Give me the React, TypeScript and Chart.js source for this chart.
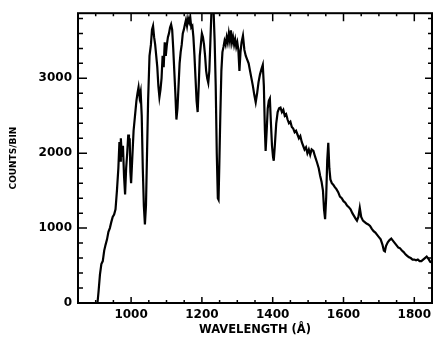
import React, { useEffect, useRef } from "react";
import { Chart, registerables } from "chart.js";
Chart.register(...registerables);

const wavelength = [
  850, 905, 908, 912, 916, 920, 924, 928, 932, 936, 940, 944, 948, 952, 956, 960, 964, 967, 969, 971,
  974, 977, 980, 983, 986, 989, 992, 994, 996, 998, 1000, 1003, 1007, 1011, 1015, 1018, 1021, 1024, 1027, 1030,
  1033, 1036, 1039, 1042, 1045, 1048, 1052, 1056, 1059, 1062, 1065, 1068, 1071, 1074, 1077, 1080, 1083, 1086, 1089, 1092,
  1095, 1098, 1101, 1104, 1107, 1110, 1113, 1116, 1119, 1122, 1125, 1128, 1131, 1134, 1137, 1140, 1143, 1146, 1149, 1152,
  1155, 1158, 1161, 1164, 1167, 1170, 1173, 1176, 1179, 1182, 1185, 1188, 1191, 1194, 1197, 1200, 1203, 1206, 1209, 1212,
  1215, 1218, 1221, 1224, 1227, 1230, 1233, 1236, 1239, 1242, 1245, 1247, 1249, 1252, 1255, 1258, 1261, 1264, 1267, 1270,
  1273, 1276, 1279, 1282, 1285, 1288, 1291, 1294, 1297, 1300, 1303, 1306, 1309, 1312, 1316, 1320, 1324, 1328, 1332, 1336,
  1340, 1344, 1348, 1352, 1356, 1360, 1364, 1368, 1372, 1375, 1378, 1380, 1383, 1386, 1389, 1392, 1395, 1398, 1401, 1403,
  1406, 1410, 1414, 1418, 1422, 1426, 1430, 1434, 1438, 1442, 1446, 1450, 1454, 1458, 1462, 1466, 1470, 1474, 1478, 1482,
  1486, 1490, 1494, 1498, 1502, 1506, 1510, 1515, 1520, 1525, 1530, 1534, 1538, 1542, 1545, 1548, 1551, 1554, 1557, 1560,
  1563, 1567, 1571, 1575, 1580, 1585, 1590, 1595, 1600, 1605, 1610, 1615, 1620, 1625, 1630, 1635, 1638, 1642, 1646, 1650,
  1655, 1660, 1665, 1670, 1675, 1680, 1685, 1690, 1695, 1700, 1705, 1710, 1714, 1717, 1720, 1725, 1730, 1735, 1740, 1745,
  1750, 1755, 1760, 1765, 1770, 1775, 1780, 1785, 1790, 1795, 1800, 1805, 1810, 1815, 1820, 1825, 1830, 1835, 1840, 1845,
  1850,
];

const counts = [
  0, 0, 150, 380, 520, 560, 700, 780, 850, 950, 1000, 1080, 1150, 1180, 1250, 1500, 1800, 2150, 1900, 2200,
  1950, 2100, 1700, 1450, 1800, 2000, 2250, 2100, 2200, 1750, 1600, 1900, 2300, 2500, 2700, 2800, 2880, 2750, 2820, 2500,
  1800, 1300, 1050, 1300, 2000, 2700, 3300, 3450, 3650, 3700, 3550, 3450, 3300, 3150, 2900, 2750, 2850, 3000, 3300, 3150,
  3480, 3300, 3450, 3550, 3600, 3680, 3720, 3650, 3400, 3100, 2800, 2450, 2600, 2900, 3200, 3350, 3450, 3600, 3650, 3720,
  3780, 3700, 3800, 3750, 3820, 3680, 3700, 3550, 3300, 3000, 2700, 2550, 2900, 3300, 3450, 3600, 3550, 3450, 3300, 3100,
  3000, 2940, 3100, 3500, 3900, 4100, 3900, 3500, 2900, 2000, 1400, 1380, 1800, 2500, 3100, 3350, 3420, 3500, 3450, 3550,
  3480, 3600, 3500, 3640, 3480, 3550, 3450, 3520, 3420, 3480, 3380, 3100, 3350, 3480, 3570, 3380, 3300, 3250, 3200, 3100,
  3000, 2900, 2780, 2680, 2800, 2950, 3050, 3120, 3180, 2900, 2300, 2030, 2300, 2600, 2700, 2730, 2400, 2100, 1950, 1900,
  2100, 2400, 2550, 2600, 2610, 2550, 2580, 2500, 2520, 2450, 2400, 2420, 2350, 2330, 2280, 2300, 2250, 2200, 2230, 2150,
  2100, 2050, 2080, 2000, 2050, 1980, 2050, 2030, 1950, 1880, 1800, 1700, 1620, 1500, 1250, 1120, 1400, 1900, 2140, 1800,
  1650, 1600, 1580, 1550, 1520, 1480, 1420, 1400, 1360, 1340, 1300, 1280, 1250, 1200, 1160, 1120, 1100, 1150, 1270, 1150,
  1100, 1080, 1060, 1050, 1030, 990, 960, 940, 910, 880, 850, 780, 700, 690, 760, 810, 840, 860, 830, 800,
  770, 740, 730, 700, 680, 650, 630, 610, 600, 580, 580, 570, 580, 560, 560, 580, 600, 620, 590, 550,
  540,
];

const xMajor = [1000, 1200, 1400, 1600, 1800];
const xMinor = [850, 900, 950, 1050, 1100, 1150, 1250, 1300, 1350, 1450, 1500, 1550, 1650, 1700, 1750, 1850];
const yMajor = [0, 1000, 2000, 3000];
const yMinor = [200, 400, 600, 800, 1200, 1400, 1600, 1800, 2200, 2400, 2600, 2800, 3200, 3400, 3600, 3800];

const frame = {
  id: "frame",
  afterDatasetsDraw(chart: any) {
    const { ctx, chartArea, scales } = chart;
    const { left, right, top, bottom } = chartArea;
    const x = scales.x;
    const y = scales.y;
    ctx.save();
    ctx.strokeStyle = "#000";
    ctx.lineWidth = 1.5;
    ctx.beginPath();
    const xt = (vals: number[], lb: number, lt: number) => {
      for (const v of vals) {
        const px = x.getPixelForValue(v);
        if (px < left - 0.5 || px > right + 0.5) continue;
        ctx.moveTo(px, bottom);
        ctx.lineTo(px, bottom - lb);
        ctx.moveTo(px, top);
        ctx.lineTo(px, top + lt);
      }
    };
    const yt = (vals: number[], ll: number, lr: number) => {
      for (const v of vals) {
        const py = y.getPixelForValue(v);
        if (py < top - 0.5 || py > bottom + 0.5) continue;
        ctx.moveTo(left, py);
        ctx.lineTo(left + ll, py);
        ctx.moveTo(right, py);
        ctx.lineTo(right - lr, py);
      }
    };
    xt(xMajor, 6, 8);
    xt(xMinor, 3, 3);
    yt(yMajor, 9, 7);
    yt(yMinor, 5, 4);
    ctx.stroke();
    ctx.lineWidth = 2;
    ctx.strokeRect(left, top, right - left, bottom - top);
    ctx.restore();
  },
};

export default function App() {
  const ref = useRef<HTMLCanvasElement>(null);
  useEffect(() => {
    if (!ref.current) return;
    const data = wavelength.map((w, i) => ({ x: w, y: counts[i] }));
    const tickFont = { family: "DejaVu Sans", weight: "bold" as const, size: 12 };
    const chart = new Chart(ref.current, {
      type: "line",
      data: {
        datasets: [
          {
            data,
            borderColor: "#000",
            borderWidth: 2.2,
            pointRadius: 0,
            tension: 0,
            fill: false,
          },
        ],
      },
      options: {
        animation: false,
        responsive: false,
        layout: { padding: { top: 5, right: 9, left: 0, bottom: 0 } },
        plugins: { legend: { display: false }, tooltip: { enabled: false } },
        scales: {
          x: {
            type: "linear",
            min: 850,
            max: 1850,
            grid: { display: false, drawTicks: false },
            border: { display: false },
            afterBuildTicks: (s: any) => {
              s.ticks = xMajor.map((v) => ({ value: v }));
            },
            afterFit: (s: any) => {
              s.height = 46;
            },
            ticks: {
              color: "#000",
              font: tickFont,
              padding: 5,
              maxRotation: 0,
              callback: (v: any) => String(v),
            },
            title: {
              display: true,
              text: "WAVELENGTH (Å)",
              color: "#000",
              font: { family: "DejaVu Sans", weight: "bold", size: 11.5, lineHeight: 1 },
              padding: { top: 0, bottom: 13 },
            },
          },
          y: {
            min: 0,
            max: 3870,
            grid: { display: false, drawTicks: false },
            border: { display: false },
            afterBuildTicks: (s: any) => {
              s.ticks = yMajor.map((v) => ({ value: v }));
            },
            afterFit: (s: any) => {
              s.width = 78;
            },
            ticks: {
              color: "#000",
              font: tickFont,
              padding: 6,
              callback: (v: any) => String(v),
            },
            title: {
              display: true,
              text: "COUNTS/BIN",
              color: "#000",
              font: { family: "DejaVu Sans", weight: "bold", size: 9, lineHeight: 1 },
              padding: { top: 9, bottom: 0 },
            },
          },
        },
      },
      plugins: [frame],
    });
    return () => chart.destroy();
  }, []);
  return (
    <div style={{ position: "absolute", left: 0, top: 0, width: 441, height: 349, background: "#fff" }}>
      <canvas ref={ref} width={441} height={349} />
    </div>
  );
}
